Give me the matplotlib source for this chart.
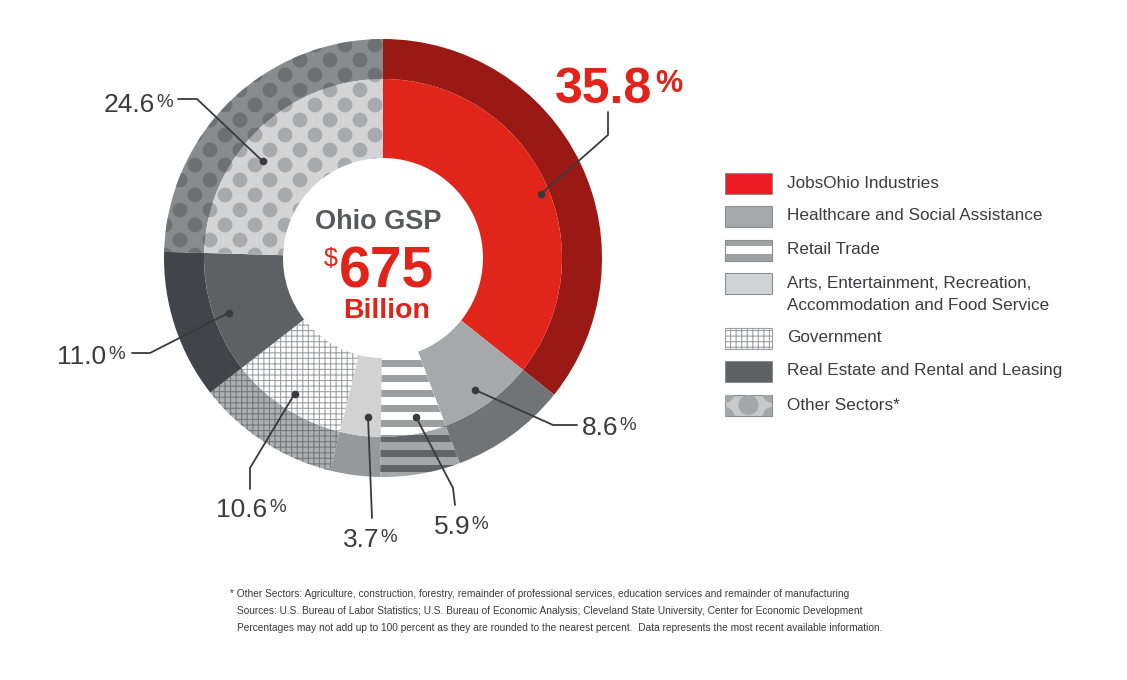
import matplotlib.pyplot as plt
import numpy as np
from matplotlib.collections import PatchCollection
from matplotlib.patches import Circle, Rectangle

plt.rcParams["font.family"] = ["Liberation Sans Narrow", "Liberation Sans", "DejaVu Sans"]
plt.rcParams["hatch.linewidth"] = 0.8

# Data
sectors = [
    "JobsOhio Industries",
    "Healthcare and Social Assistance",
    "Retail Trade",
    "Arts, Entertainment, Recreation,\nAccommodation and Food Service",
    "Government",
    "Real Estate and Rental and Leasing",
    "Other Sectors*",
]
shares = [35.8, 8.6, 5.9, 3.7, 10.6, 11.0, 24.6]
share_labels = ["35.8", "8.6", "5.9", "3.7", "10.6", "11.0", "24.6"]
center_title = "Ohio GSP"
center_value = "675"
center_unit = "Billion"
footnotes = [
    "* Other Sectors: Agriculture, construction, forestry, remainder of professional services, "
    "education services and remainder of manufacturing",
    "Sources: U.S. Bureau of Labor Statistics; U.S. Bureau of Economic Analysis; "
    "Cleveland State University, Center for Economic Development",
    "Percentages may not add up to 100 percent as they are rounded to the nearest percent.  "
    "Data represents the most recent available information.",
]

# Styling
inner_colors = ["#e1251b", "#a7a8aa", "#ffffff", "#d2d2d3", "#ffffff", "#5f6064", "#d4d4d5"]
outer_colors = ["#9b1914", "#727376", "#a5a6a8", "#97989a", "#aeafb1", "#434449", "#8a8b8d"]
RED = "#e2231a"
TXT = "#3c3c3e"

W, H = 1127, 680


def Y(y):
    # image row -> data y
    return H - y


fig = plt.figure(figsize=(W / 100, H / 100), dpi=100)
ax = fig.add_axes([0, 0, 1, 1])

cx, cy = 383, Y(258)
r_out, r_mid, r_hole = 219, 179, 100

outer, _ = ax.pie(shares, radius=r_out, center=(cx, cy), startangle=90, counterclock=False,
                  colors=outer_colors, wedgeprops=dict(width=r_out - r_mid, linewidth=0))
inner, _ = ax.pie(shares, radius=r_mid, center=(cx, cy), startangle=90, counterclock=False,
                  colors=inner_colors, wedgeprops=dict(width=r_mid - r_hole, linewidth=0))


def clipped(patches, colour, clip):
    pc = PatchCollection(patches, facecolor=colour, edgecolor="none", linewidth=0)
    ax.add_collection(pc)
    pc.set_clip_path(clip)


# Government: grid hatch
for w, ec in ((outer[4], "#77787b"), (inner[4], "#a0a1a3")):
    w.set_hatch("+++")
    w.set_edgecolor(ec)
    w.set_linewidth(0)

# Retail trade: horizontal stripes
stripes = [Rectangle((cx - 30, Y(yy + 7)), 150, 7) for yy in range(360, 485, 15)]
clipped(stripes, "#9d9ea0", inner[2])
stripes = [Rectangle((cx - 30, Y(yy + 7)), 150, 7) for yy in range(360, 485, 15)]
clipped(stripes, "#626367", outer[2])


# Other sectors: staggered dots
def dot_grid():
    dots = []
    for j, yy in enumerate(range(30, 275, 15)):
        for xx in range(150 + (j % 2) * 15, 400, 30):
            dots.append(Circle((xx, Y(yy)), 7.4))
    return dots


clipped(dot_grid(), "#a8a9ab", inner[6])
clipped(dot_grid(), "#6f7073", outer[6])

# Center text
ax.text(378, Y(229), center_title, ha="center", va="baseline", fontsize=19.5,
        weight="bold", color="#58595d")
t675 = ax.text(386.5, Y(287), center_value, ha="center", va="baseline", fontsize=41,
               weight="bold", color=RED)
ax.annotate("$", xy=(0, Y(266)), xycoords=(t675, "data"), xytext=(-1, 0),
            textcoords="offset points", ha="right", va="baseline", fontsize=18, color=RED)
ax.text(386.5, Y(318), center_unit, ha="center", va="baseline", fontsize=20.5,
        weight="bold", color=RED)

# Leader lines, dots and percentage labels
dot_pos = [(3.6, 171), (1.0, 161), (-1.8, 162), (-2.0, 160), (0.0, 162), (-1.4, 163), (-7.0, 154)]
label_pos = [(604, 103), (600, 435), (452, 534), (361, 547), (242, 517), (82, 364), (129, 112)]
leader_pts = [
    [(608, 135), (608, 112)],
    [(553, 425), (577, 425)],
    [(453, 488), (455, 505)],
    [(372, 518)],
    [(250, 468), (250, 489)],
    [(150, 353), (132, 353)],
    [(197, 99), (178, 99)],
]

for i, w in enumerate(inner):
    dang, rr = dot_pos[i]
    mid = np.deg2rad((w.theta1 + w.theta2) / 2 - dang)
    px, py = cx + rr * np.cos(mid), cy + rr * np.sin(mid)
    xs = [px] + [p[0] for p in leader_pts[i]]
    ys = [py] + [Y(p[1]) for p in leader_pts[i]]
    ax.plot(xs, ys, color="#3a3a3c", lw=1.3, solid_capstyle="round", solid_joinstyle="round")
    ax.plot(px, py, "o", color="#3a3a3c", ms=5.5, mec="none")

    lx, ly = label_pos[i]
    if i == 0:
        t = ax.text(lx, Y(ly), share_labels[i], ha="center", va="baseline", fontsize=36,
                    weight="bold", color=RED)
        ax.annotate("%", xy=(1, Y(ly - 11)), xycoords=(t, "data"), xytext=(2, 0),
                    textcoords="offset points", ha="left", va="baseline", fontsize=22,
                    weight="bold", color=RED)
    else:
        t = ax.text(lx, Y(ly), share_labels[i], ha="center", va="baseline", fontsize=19,
                    color=TXT)
        ax.annotate("%", xy=(1, Y(ly - 5)), xycoords=(t, "data"), xytext=(1, 0),
                    textcoords="offset points", ha="left", va="baseline", fontsize=13.5,
                    color=TXT)

# Legend
leg_y = [183, 216, 250, 283, 338, 371, 405]
sw_x, sw_w, sw_h = 725, 47, 21
sw_colors = ["#ed1c24", "#a7a8aa", "#a0a1a3", "#d1d2d3", "#ffffff", "#5f6064", "#c9c9ca"]
for i, name in enumerate(sectors):
    yc = leg_y[i]
    sw = Rectangle((sw_x, Y(yc) - sw_h / 2), sw_w, sw_h, facecolor=sw_colors[i],
                   edgecolor="#8c8d8f", linewidth=0.8)
    ax.add_patch(sw)
    if i == 2:
        ax.add_patch(Rectangle((sw_x + 0.5, Y(yc) - 3.5), sw_w - 1, 8, facecolor="white",
                               edgecolor="none"))
    if i == 4:
        sw.set_hatch("+++")
        sw.set_edgecolor("#9fa0a2")
    if i == 6:
        circ = [Circle((sw_x + 23.5 + dx, Y(yc) + dy), 10)
                for dx, dy in ((0, 0), (-24, 12), (24, 12), (-24, -12), (24, -12))]
        clipped(circ, "#a5a6a8", sw)
    for k, line in enumerate(name.split("\n")):
        ax.text(787, Y(yc + 22 * k), line, ha="left", va="center", fontsize=12.3, color=TXT)

# Footnotes
ax.text(230, Y(594), footnotes[0], ha="left", va="center", fontsize=7.3, color="#3a3a3a")
ax.text(237, Y(611), footnotes[1], ha="left", va="center", fontsize=7.3, color="#3a3a3a")
ax.text(237, Y(628), footnotes[2], ha="left", va="center", fontsize=7.3, color="#3a3a3a")

ax.set_xlim(0, W)
ax.set_ylim(0, H)
ax.axis("off")

fig.savefig("out.png", dpi=100)
